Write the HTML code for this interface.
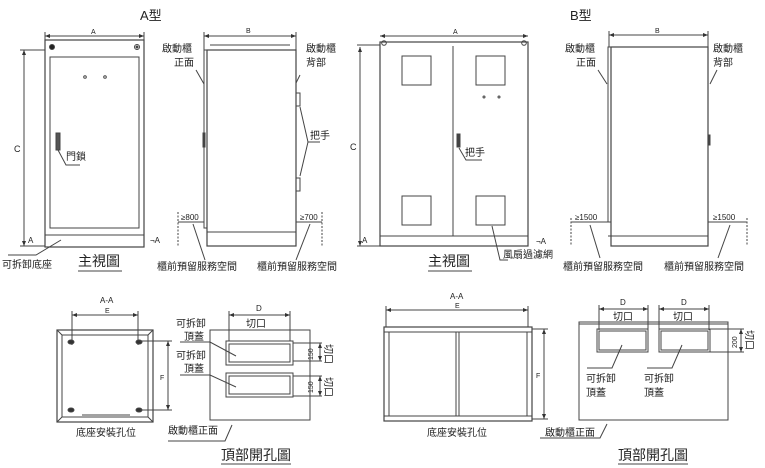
<!DOCTYPE html>
<html><head><meta charset="utf-8"><style>
html,body{margin:0;padding:0;background:#fff;}
svg{display:block;}
text{font-family:"Liberation Sans","Noto Sans CJK TC",sans-serif;fill:#222;}
</style></head><body>
<svg width="765" height="468" viewBox="0 0 765 468" xmlns="http://www.w3.org/2000/svg">
<defs>
<marker id="ar" markerWidth="6" markerHeight="6" refX="5" refY="3" orient="auto"><path d="M0,1 L5,3 L0,5z" fill="#333"/></marker>
<marker id="al" markerWidth="6" markerHeight="6" refX="1" refY="3" orient="auto"><path d="M6,1 L1,3 L6,5z" fill="#333"/></marker>
</defs>
<g stroke="#444" stroke-width="1" fill="none">
<!-- A type front -->
<line x1="45" y1="36" x2="144" y2="36" marker-start="url(#al)" marker-end="url(#ar)"/>
<line x1="45" y1="32" x2="45" y2="40"/><line x1="144" y1="32" x2="144" y2="40"/>
<rect x="45" y="40" width="99" height="207" stroke-width="1.2"/>
<rect x="50" y="57" width="89" height="171"/>
<line x1="45" y1="235" x2="144" y2="235"/>
<circle cx="52" cy="47" r="2.5" fill="#222"/><circle cx="137" cy="47" r="2.5"/><circle cx="137" cy="47" r="1" fill="#444"/>
<circle cx="85" cy="77" r="1.3"/><circle cx="105" cy="77" r="1.3"/>
<rect x="56" y="133" width="4" height="17" fill="#555"/>
<line x1="24" y1="50" x2="24" y2="246" marker-start="url(#al)" marker-end="url(#ar)"/>
<line x1="20" y1="246" x2="45" y2="246"/><line x1="20" y1="50" x2="45" y2="50"/>
<polyline points="58,150 66,165 80,165"/>
<polyline points="61,240 36,255 8,255"/>
<!-- A side -->
<line x1="204" y1="36" x2="296" y2="36" marker-start="url(#al)" marker-end="url(#ar)"/>
<line x1="204" y1="32" x2="204" y2="50"/><line x1="296" y1="32" x2="296" y2="50"/>
<line x1="210" y1="45" x2="290" y2="45"/>
<rect x="207" y="50" width="89" height="196" stroke-width="1.2"/>
<line x1="207" y1="232" x2="296" y2="232"/>
<rect x="204" y="50" width="3" height="178"/>
<rect x="203" y="133" width="2" height="14" fill="#444"/>
<rect x="296" y="93" width="4" height="13"/><rect x="296" y="178" width="4" height="13"/>
<line x1="178" y1="212" x2="178" y2="246" stroke-dasharray="2,1.5"/><line x1="322" y1="212" x2="322" y2="246" stroke-dasharray="2,1.5"/>
<line x1="178" y1="222" x2="204" y2="222"/><line x1="296" y1="222" x2="322" y2="222"/>
<polyline points="193,224 205,260"/><polyline points="310,224 296,260"/>
<polyline points="196,70 204,84"/><polyline points="300,75 296,83"/>
<polyline points="300,107 308,142 320,142"/><polyline points="300,176 308,142"/>
<!-- B type front -->
<line x1="357" y1="45" x2="380" y2="45"/>
<line x1="360" y1="47" x2="360" y2="246" marker-start="url(#al)" marker-end="url(#ar)"/>
<line x1="357" y1="246" x2="380" y2="246"/>
<line x1="380" y1="36" x2="528" y2="36" marker-start="url(#al)" marker-end="url(#ar)"/>
<rect x="380" y="42" width="148" height="204" stroke-width="1.2"/>
<line x1="380" y1="236" x2="528" y2="236"/>
<line x1="453" y1="46" x2="453" y2="236"/>
<circle cx="384" cy="43" r="2.3"/><circle cx="524" cy="43" r="2.3"/>
<rect x="402" y="56" width="29" height="29"/><rect x="476" y="56" width="29" height="29"/>
<rect x="402" y="196" width="29" height="29"/><rect x="476" y="196" width="29" height="29"/>
<circle cx="484" cy="97" r="1"/><circle cx="499" cy="97" r="1"/>
<rect x="457" y="134" width="3" height="13" fill="#444"/>
<polyline points="459,148 466,160 482,160"/>
<polyline points="492,226 500,260 508,260"/>
<!-- B side -->
<line x1="609" y1="35" x2="708" y2="35" marker-start="url(#al)" marker-end="url(#ar)"/>
<line x1="609" y1="31" x2="609" y2="47"/><line x1="708" y1="31" x2="708" y2="47"/>
<rect x="611" y="47" width="97" height="199" stroke-width="1.2"/>
<line x1="608" y1="236" x2="708" y2="236"/>
<rect x="608" y="47" width="3" height="175"/>
<rect x="708" y="135" width="2" height="10" fill="#444"/>
<line x1="571" y1="218" x2="571" y2="246" stroke-dasharray="2,1.5"/><line x1="747" y1="218" x2="747" y2="246" stroke-dasharray="2,1.5"/>
<line x1="571" y1="222" x2="608" y2="222"/><line x1="708" y1="222" x2="747" y2="222"/>
<polyline points="590,225 600,258"/><polyline points="730,225 718,258"/>
<polyline points="598,70 607,84"/><polyline points="717,70 710,84"/>
<!-- A-A left -->
<line x1="72" y1="315" x2="138" y2="315" marker-start="url(#al)" marker-end="url(#ar)"/>
<line x1="72" y1="311" x2="72" y2="345"/><line x1="138" y1="311" x2="138" y2="345"/>
<rect x="57" y="330" width="96" height="92" stroke-width="1.2"/>
<rect x="62" y="335" width="86" height="82"/>
<line x1="57" y1="330" x2="62" y2="335"/><line x1="153" y1="330" x2="148" y2="335"/><line x1="57" y1="422" x2="62" y2="417"/><line x1="153" y1="422" x2="148" y2="417"/>
<line x1="82" y1="415" x2="130" y2="415"/>
<ellipse cx="71" cy="342" rx="3" ry="2" fill="#333"/><ellipse cx="139" cy="342" rx="3" ry="2" fill="#333"/>
<ellipse cx="71" cy="410" rx="3" ry="2" fill="#333"/><ellipse cx="139" cy="410" rx="3" ry="2" fill="#333"/>
<line x1="168" y1="341" x2="168" y2="410" marker-start="url(#al)" marker-end="url(#ar)"/>
<line x1="140" y1="341" x2="172" y2="341"/><line x1="140" y1="410" x2="172" y2="410"/>
<!-- Top plan A -->
<line x1="229" y1="315" x2="290" y2="315" marker-start="url(#al)" marker-end="url(#ar)"/>
<line x1="229" y1="311" x2="229" y2="341"/><line x1="290" y1="311" x2="290" y2="341"/>
<rect x="210" y="330" width="100" height="90"/>
<rect x="226" y="341" width="67" height="24"/><rect x="229" y="344" width="61" height="18"/>
<rect x="226" y="373" width="67" height="24"/><rect x="229" y="376" width="61" height="18"/>
<line x1="293" y1="343" x2="322" y2="343"/><line x1="293" y1="361" x2="322" y2="361"/>
<line x1="293" y1="376" x2="322" y2="376"/><line x1="293" y1="396" x2="322" y2="396"/>
<line x1="320" y1="343" x2="320" y2="361" marker-start="url(#al)" marker-end="url(#ar)"/>
<line x1="320" y1="376" x2="320" y2="396" marker-start="url(#al)" marker-end="url(#ar)"/>
<polyline points="180,342 210,342 236,356"/><polyline points="180,375 210,375 236,387"/>
<polyline points="168,441 225,441 232,425"/>
<!-- A-A right -->
<line x1="386" y1="310" x2="528" y2="310" marker-start="url(#al)" marker-end="url(#ar)"/>
<line x1="386" y1="306" x2="386" y2="327"/><line x1="528" y1="306" x2="528" y2="327"/>
<rect x="384" y="327" width="148" height="94" stroke-width="1.2"/>
<line x1="384" y1="332" x2="532" y2="332"/><line x1="384" y1="416" x2="532" y2="416"/>
<line x1="389" y1="332" x2="389" y2="416"/><line x1="527" y1="332" x2="527" y2="416"/>
<rect x="456" y="332" width="3" height="84"/>
<line x1="544" y1="329" x2="544" y2="419" marker-start="url(#al)" marker-end="url(#ar)"/>
<line x1="532" y1="329" x2="548" y2="329"/><line x1="532" y1="419" x2="548" y2="419"/>
<!-- Top plan B -->
<line x1="599" y1="309" x2="648" y2="309" marker-start="url(#al)" marker-end="url(#ar)"/>
<line x1="659" y1="309" x2="709" y2="309" marker-start="url(#al)" marker-end="url(#ar)"/>
<line x1="599" y1="305" x2="599" y2="330"/><line x1="648" y1="305" x2="648" y2="330"/>
<line x1="659" y1="305" x2="659" y2="330"/><line x1="709" y1="305" x2="709" y2="330"/>
<rect x="579" y="322" width="149" height="98"/>
<line x1="579" y1="324" x2="728" y2="324"/>
<rect x="597" y="329" width="51" height="23"/><rect x="599" y="331" width="47" height="19"/>
<rect x="659" y="329" width="51" height="23"/><rect x="661" y="331" width="47" height="19"/>
<line x1="710" y1="329" x2="744" y2="329"/><line x1="710" y1="352" x2="744" y2="352"/>
<line x1="741" y1="329" x2="741" y2="352" marker-start="url(#al)" marker-end="url(#ar)"/>
<polyline points="587,368 612,368 622,345"/><polyline points="647,368 672,368 682,345"/>
<polyline points="540,438 600,438 607,424"/>
</g>
<g font-size="10">
<text x="140" y="20" font-size="13">A型</text>
<text x="570" y="20" font-size="13">B型</text>
<text x="91" y="34" font-size="7">A</text>
<text x="246" y="33" font-size="7">B</text>
<text x="453" y="34" font-size="7">A</text>
<text x="655" y="33" font-size="7">B</text>
<text x="14" y="152" font-size="9">C</text>
<text x="350" y="150" font-size="9">C</text>
<text x="28" y="243" font-size="8">A</text><text x="150" y="243" font-size="8">¬A</text>
<text x="362" y="243" font-size="8">A</text><text x="536" y="244" font-size="8">¬A</text>
<text x="66" y="160">門鎖</text>
<text x="2" y="268">可拆卸底座</text>
<text x="78" y="266" font-size="14">主視圖</text>
<text x="428" y="266" font-size="14">主視圖</text>
<text x="162" y="52">啟動櫃</text><text x="174" y="66">正面</text>
<text x="306" y="52">啟動櫃</text><text x="306" y="66">背部</text>
<text x="310" y="139">把手</text>
<text x="465" y="156">把手</text>
<text x="181" y="220" font-size="8">≥800</text><text x="300" y="220" font-size="8">≥700</text>
<text x="157" y="270">櫃前預留服務空間</text><text x="257" y="270">櫃前預留服務空間</text>
<text x="503" y="258">風扇過濾網</text>
<text x="565" y="52">啟動櫃</text><text x="576" y="66">正面</text>
<text x="713" y="52">啟動櫃</text><text x="713" y="66">背部</text>
<text x="575" y="220" font-size="8">≥1500</text><text x="713" y="220" font-size="8">≥1500</text>
<text x="563" y="270">櫃前預留服務空間</text><text x="664" y="270">櫃前預留服務空間</text>
<text x="100" y="303" font-size="8">A-A</text>
<text x="105" y="313" font-size="7">E</text>
<text x="160" y="380" font-size="7">F</text>
<text x="76" y="436">底座安裝孔位</text>
<text x="256" y="311" font-size="8">D</text>
<text x="246" y="327">切口</text>
<text x="176" y="327">可拆卸</text><text x="184" y="340">頂蓋</text>
<text x="176" y="359">可拆卸</text><text x="184" y="372">頂蓋</text>
<text x="313" y="360" font-size="7" transform="rotate(-90 313 360)">150</text>
<text x="313" y="393" font-size="7" transform="rotate(-90 313 393)">150</text>
<text x="325" y="344" transform="rotate(90 325 344)">切口</text>
<text x="325" y="377" transform="rotate(90 325 377)">切口</text>
<text x="168" y="434">啟動櫃正面</text>
<text x="221" y="460" font-size="14">頂部開孔圖</text>
<text x="450" y="299" font-size="8">A-A</text>
<text x="455" y="308" font-size="7">E</text>
<text x="536" y="378" font-size="7">F</text>
<text x="427" y="436">底座安裝孔位</text>
<text x="620" y="305" font-size="8">D</text><text x="681" y="305" font-size="8">D</text>
<text x="613" y="320">切口</text><text x="673" y="320">切口</text>
<text x="586" y="382">可拆卸</text><text x="586" y="396">頂蓋</text>
<text x="644" y="382">可拆卸</text><text x="644" y="396">頂蓋</text>
<text x="737" y="348" font-size="7" transform="rotate(-90 737 348)">200</text>
<text x="746" y="330" transform="rotate(90 746 330)">切口</text>
<text x="545" y="436">啟動櫃正面</text>
<text x="618" y="460" font-size="14">頂部開孔圖</text>
</g>
<g stroke="#444">
<line x1="78" y1="271" x2="122" y2="271"/><line x1="428" y1="271" x2="472" y2="271"/>
<line x1="221" y1="464" x2="291" y2="464"/><line x1="618" y1="464" x2="688" y2="464"/>
</g>
</svg>
</body></html>
